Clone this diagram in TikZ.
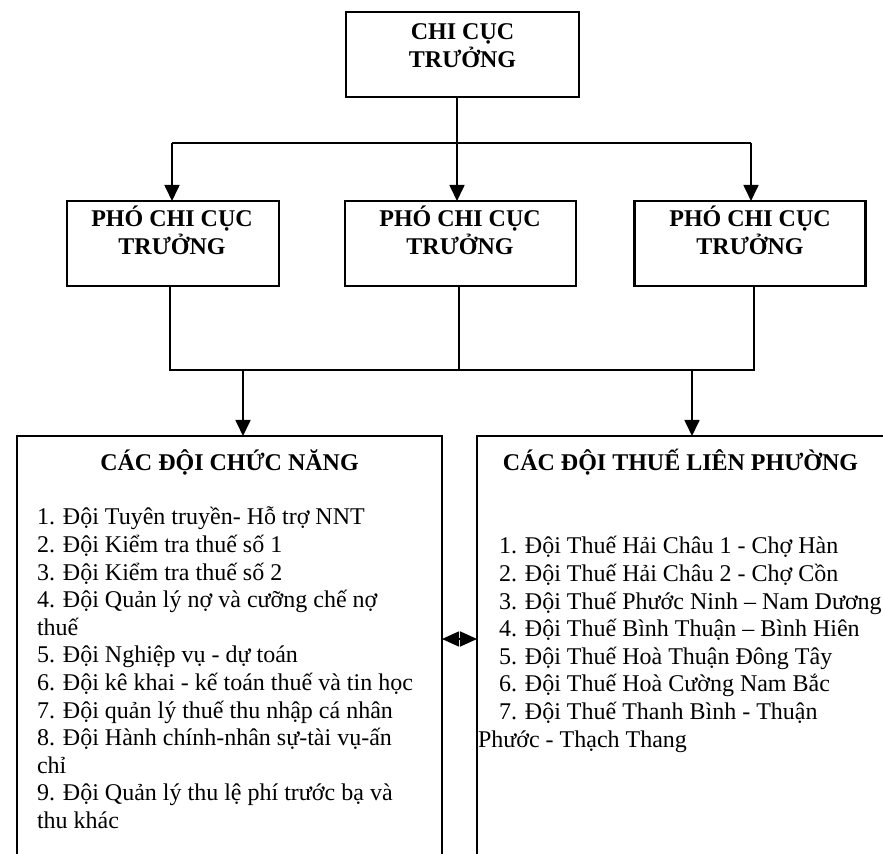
\documentclass[tikz,border=0pt]{standalone}
\usepackage{fontspec}
\setmainfont{Liberation Serif}
\usetikzlibrary{arrows.meta,calc}
\begin{document}
\begin{tikzpicture}[x=0.5pt,y=-0.5pt,
  font=\fontsize{12}{13.8}\selectfont,
  box/.style={draw,line width=1.1pt,inner sep=0pt,outer sep=0pt},
  lbl/.style={inner sep=0pt,outer sep=0pt,anchor=base},
  link/.style={line width=0.85pt},
  arr/.style={link,-{Triangle[length=8pt,width=7.5pt]}},
  twoway/.style={link,{Triangle[length=8.5pt,width=7.5pt]}-{Triangle[length=8.5pt,width=7.5pt]}}]
\useasboundingbox (0,0) rectangle (883,854);

% head of the office
\node[box,minimum width=116.5pt,minimum height=42.5pt] (top) at (462.5,54.5) {};
\node[lbl] (topT) at (462.5,40) {\parbox[t]{110pt}{\centering\bfseries CHI CỤC\\TRƯỞNG}};

% deputies
\node[box,minimum width=106pt,minimum height=42.5pt] (pL) at (173,243.5) {};
\node[box,minimum width=115.5pt,minimum height=42.5pt] (pM) at (460.5,243.5) {};
\node[box,minimum width=115.5pt,minimum height=42.5pt] (pR) at (750,243.5) {};
\node[lbl] (pLT) at (172,227) {\parbox[t]{104pt}{\centering\bfseries PHÓ CHI CỤC\\TRƯỞNG}};
\node[lbl] (pMT) at (460,227) {\parbox[t]{104pt}{\centering\bfseries PHÓ CHI CỤC\\TRƯỞNG}};
\node[lbl] (pRT) at (750,227) {\parbox[t]{104pt}{\centering\bfseries PHÓ CHI CỤC\\TRƯỞNG}};

% team groups (open at the bottom and on the far right)
\node[box,minimum width=212.5pt,minimum height=222pt] (cL) at (229.5,658) {};
\node[box,minimum width=214pt,minimum height=222pt] (cR) at (691,658) {};
\node[lbl] (cLT) at (229.5,471) {\bfseries CÁC ĐỘI CHỨC NĂNG};
\node[lbl] (cRT) at (680.5,471) {\bfseries CÁC ĐỘI THUẾ LIÊN PHƯỜNG};

\node[lbl,anchor=base west] (cLlist) at (37,525) {\parbox[t]{205pt}{\raggedright
1. Đội Tuyên truyền- Hỗ trợ NNT\\
2. Đội Kiểm tra thuế số 1\\
3. Đội Kiểm tra thuế số 2\\
4. Đội Quản lý nợ và cưỡng chế nợ\\
thuế\\
5. Đội Nghiệp vụ - dự toán\\
6. Đội kê khai - kế toán thuế và tin học\\
7. Đội quản lý thuế thu nhập cá nhân\\
8. Đội Hành chính-nhân sự-tài vụ-ấn\\
chỉ\\
9. Đội Quản lý thu lệ phí trước bạ và\\
thu khác}};

\node[lbl,anchor=base west] (cRlist) at (478,554) {\parbox[t]{205pt}{\raggedright
\hspace*{10.5pt}1. Đội Thuế Hải Châu 1 - Chợ Hàn\\
\hspace*{10.5pt}2. Đội Thuế Hải Châu 2 - Chợ Cồn\\
\hspace*{10.5pt}3. Đội Thuế Phước Ninh – Nam Dương\\
\hspace*{10.5pt}4. Đội Thuế Bình Thuận – Bình Hiên\\
\hspace*{10.5pt}5. Đội Thuế Hoà Thuận Đông Tây\\
\hspace*{10.5pt}6. Đội Thuế Hoà Cường Nam Bắc\\
\hspace*{10.5pt}7. Đội Thuế Thanh Bình - Thuận\\
Phước - Thạch Thang}};

% junction points
\coordinate (jL) at (172,143);
\coordinate (jM) at (457,143);
\coordinate (jR) at (751,143);
\coordinate (kL) at (170,370);
\coordinate (kM) at (459,370);
\coordinate (kR) at (754,370);
\coordinate (aL) at (243,370);
\coordinate (aR) at (692,370);
\coordinate (mid) at (459,639);

% head -> deputies
\draw[link] (top.south -| jM) -- (jM);
\draw[link] (jL) -- (jR);
\draw[arr] (jL) -- (pL.north -| jL);
\draw[arr] (jM) -- (pM.north -| jM);
\draw[arr] (jR) -- (pR.north -| jR);

% deputies -> team groups
\draw[link] (pL.south -| kL) -- (kL) -- (kR) -- (pR.south -| kR);
\draw[link] (pM.south -| kM) -- (kM);
\draw[arr] (aL) -- (cL.north -| aL);
\draw[arr] (aR) -- (cR.north -| aR);

% link between the two groups
\draw[twoway] (cL.east |- mid) -- (cR.west |- mid);
\end{tikzpicture}
\end{document}
